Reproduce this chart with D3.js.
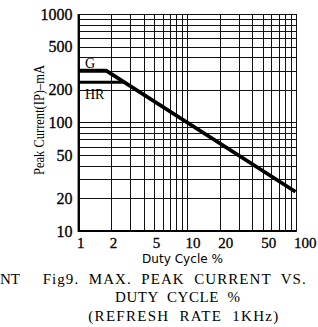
<!DOCTYPE html>
<html>
<head>
<meta charset="utf-8">
<script src="https://cdn.jsdelivr.net/npm/d3@7"></script>
<style>
body { margin: 0; background: #fff; }
svg { display: block; }
</style>
</head>
<body>
<div id="chart"></div>
<script>
// data
let xTickLabels = [1, 2, 5, 10, 20, 50, 100];        // duty cycle %
let yTickLabels = [10, 20, 50, 100, 200, 500, 1000]; // peak current mA
let gDuty = [1, 1.8, 100];
let gCurrent = [300, 300, 23];
let hrDuty = [1, 2.65];
let hrCurrent = [235, 235];

let svgWidth = 318;
let svgHeight = 327;
let serif = "'Liberation Serif', 'Times New Roman', serif";

let svg = d3.select("#chart")
    .append("svg")
    .attr("width", svgWidth)
    .attr("height", svgHeight);

svg.append("rect")
    .attr("width", svgWidth)
    .attr("height", svgHeight)
    .attr("fill", "#ffffff");

let x = d3.scaleLog().domain([1, 100]).range([78.5, 295.5]);
let y = d3.scaleLog().domain([10, 1000]).range([231, 14]);

// log grid, every 1..9 per decade
let grid = svg.append("g").attr("stroke", "#111").attr("stroke-width", 1);
x.ticks().forEach(function (v) {
    grid.append("line")
        .attr("x1", Math.round(x(v)) + 0.5).attr("x2", Math.round(x(v)) + 0.5)
        .attr("y1", y(1000)).attr("y2", y(10));
});
y.ticks().forEach(function (v) {
    grid.append("line")
        .attr("x1", x(1)).attr("x2", x(100) + 1)
        .attr("y1", Math.round(y(v)) + 0.5).attr("y2", Math.round(y(v)) + 0.5);
});

// heavier left / bottom frame
svg.append("path")
    .attr("d", "M" + x(1) + "," + y(1000) + "V" + y(10) + "H" + (x(100) + 1))
    .attr("fill", "none")
    .attr("stroke", "#000")
    .attr("stroke-width", 1.8);

// axes (labels only)
let yAxis = svg.append("g")
    .attr("transform", "translate(" + x(1) + ",0)")
    .call(d3.axisLeft(y).tickValues(yTickLabels).tickFormat(d3.format("d")).tickSize(0).tickPadding(6));
yAxis.select(".domain").remove();
yAxis.selectAll("text")
    .attr("font-family", serif)
    .attr("font-size", 16)
    .attr("fill", "#000")
    .attr("stroke", "#000")
    .attr("stroke-width", 0.3);

let xAxis = svg.append("g")
    .attr("transform", "translate(0," + y(10) + ")")
    .call(d3.axisBottom(x).tickValues(xTickLabels).tickFormat(d3.format("d")).tickSize(0).tickPadding(6));
xAxis.select(".domain").remove();
xAxis.selectAll("text")
    .attr("font-family", serif)
    .attr("font-size", 15)
    .attr("fill", "#000")
    .attr("stroke", "#000")
    .attr("stroke-width", 0.3)
    .attr("text-anchor", "start")
    .attr("dx", -2);

// curves
let line = d3.line()
    .x(function (d) { return x(d[0]); })
    .y(function (d) { return y(d[1]); });

svg.append("path")
    .datum(d3.zip(gDuty, gCurrent))
    .attr("d", line)
    .attr("fill", "none")
    .attr("stroke", "#000")
    .attr("stroke-width", 3.8)
    .attr("stroke-linejoin", "miter");

svg.append("path")
    .datum(d3.zip(hrDuty, hrCurrent))
    .attr("d", line)
    .attr("fill", "none")
    .attr("stroke", "#000")
    .attr("stroke-width", 3.2);

svg.append("text")
    .attr("x", 85).attr("y", 68)
    .attr("font-family", serif).attr("font-size", 14)
    .text("G");
svg.append("text")
    .attr("x", 85).attr("y", 99)
    .attr("font-family", serif).attr("font-size", 14)
    .text("HR");

// axis titles
svg.append("text")
    .attr("transform", "translate(44,120) rotate(-90)")
    .attr("text-anchor", "middle")
    .attr("font-family", serif)
    .attr("font-size", 14)
    .attr("textLength", 110)
    .attr("lengthAdjust", "spacingAndGlyphs")
    .text("Peak  Current(IP)\u2013mA");

svg.append("text")
    .attr("x", 182.5).attr("y", 262.5)
    .attr("text-anchor", "middle")
    .attr("font-family", "'DejaVu Sans', sans-serif")
    .attr("font-size", 11.5)
    .attr("textLength", 81)
    .attr("lengthAdjust", "spacingAndGlyphs")
    .text("Duty Cycle %");

// caption
let caption = [
    { text: "Fig9.  MAX.  PEAK  CURRENT  VS.", x: 42.7, y: 283.5, len: 263 },
    { text: "DUTY  CYCLE  %", x: 115, y: 301.7, len: 125 },
    { text: "(REFRESH  RATE  1KHz)", x: 88.3, y: 320.5, len: 190 }
];
caption.forEach(function (c) {
    svg.append("text")
        .attr("x", c.x).attr("y", c.y)
        .attr("font-family", serif)
        .attr("font-size", 15)
        .attr("textLength", c.len)
        .attr("lengthAdjust", "spacing")
        .attr("xml:space", "preserve")
        .text(c.text);
});

// leftover of the neighbouring figure's caption
svg.append("text")
    .attr("x", 0).attr("y", 283.5)
    .attr("font-family", serif)
    .attr("font-size", 15)
    .text("NT");
</script>
</body>
</html>
